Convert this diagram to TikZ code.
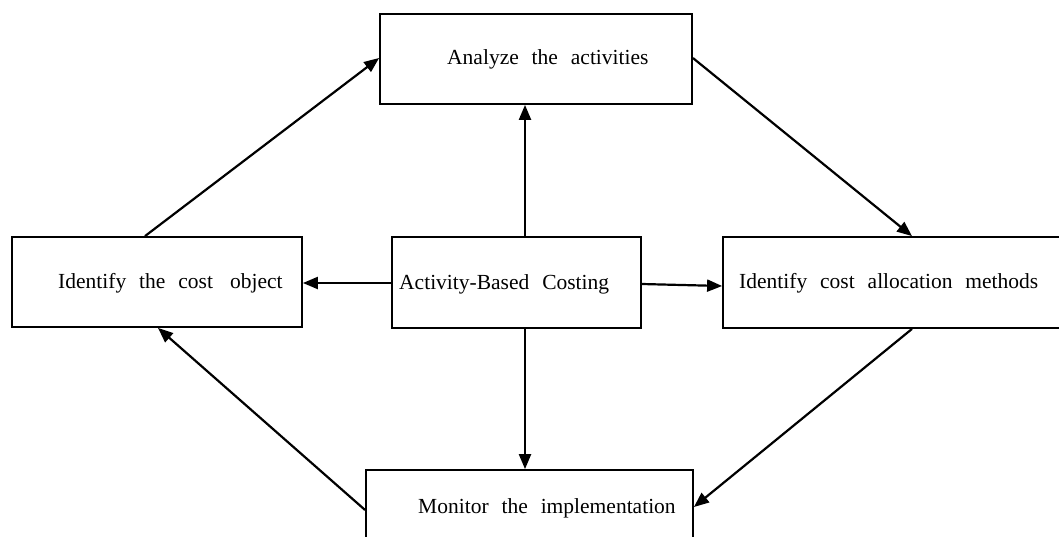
\documentclass[tikz,border=0pt]{standalone}
\usepackage{fontspec}
\setmainfont{Liberation Serif}
\usetikzlibrary{arrows.meta,calc}

\newcommand\boxfont{\fontsize{21.5}{25}\selectfont}
\newcommand\wide[1]{{\spaceskip=0.6em\relax #1}}

\tikzset{
  box/.style={draw, line width=1.8pt, rectangle, inner sep=0pt},
  lbl/.style={anchor=base west, inner sep=0pt, font=\boxfont},
  arr/.style={line width=2.2pt, -{Triangle[length=15pt,width=12pt]}},
}

\begin{document}
\begin{tikzpicture}[x=1pt,y=-1pt]
  \useasboundingbox (0,0) rectangle (1059,536);
  \fill[white] (0,0) rectangle (1059,536);
  \clip (0,0) rectangle (1059,536);

  % boxes
  \node[box, minimum width=312pt, minimum height=90pt] (top)   at (536,59)    {};
  \node[box, minimum width=290pt, minimum height=90pt] (left)  at (157,282)   {};
  \node[box, minimum width=249pt, minimum height=91pt] (mid)   at (516.5,282.5) {};
  \node[box, minimum width=378pt, minimum height=91pt] (right) at (912,282.5) {};
  \node[box, minimum width=327pt, minimum height=90pt] (bot)   at (529.5,515) {};

  % labels
  \node[lbl] (ttop)   at (447,64)  {\wide{Analyze the activities}};
  \node[lbl] (tleft)  at (58,288)  {\wide{Identify the cost\hspace{0.8em}object}};
  \node[lbl] (tmid)   at (399,289) {\wide{Activity-Based Costing}};
  \node[lbl] (tright) at (739,288) {\wide{Identify cost allocation methods}};
  \node[lbl] (tbot)   at (418,513) {\wide{Monitor the implementation}};

  % from the centre outwards
  \draw[arr] ([xshift=8.5pt]mid.north) -- ([xshift=8.5pt]mid.north |- top.south);
  \draw[arr] ([xshift=8.5pt]mid.south) -- ([xshift=8.5pt]mid.south |- bot.north);
  \draw[arr] (mid.west |- 0,283) -- (left.east |- 0,283);
  \draw[arr] ([yshift=-1.5pt]mid.east) -- ([yshift=-3.5pt]right.west);

  % the cycle round the outside
  \draw[arr] ([xshift=-12pt]left.north) -- ([yshift=1pt]top.west);
  \draw[arr] ([yshift=1pt]top.east) -- (right.north);
  \draw[arr] (right.south) -- ([yshift=8pt]bot.east);
  \draw[arr] ([yshift=5pt]bot.west) -- ([xshift=1pt]left.south);
\end{tikzpicture}
\end{document}
